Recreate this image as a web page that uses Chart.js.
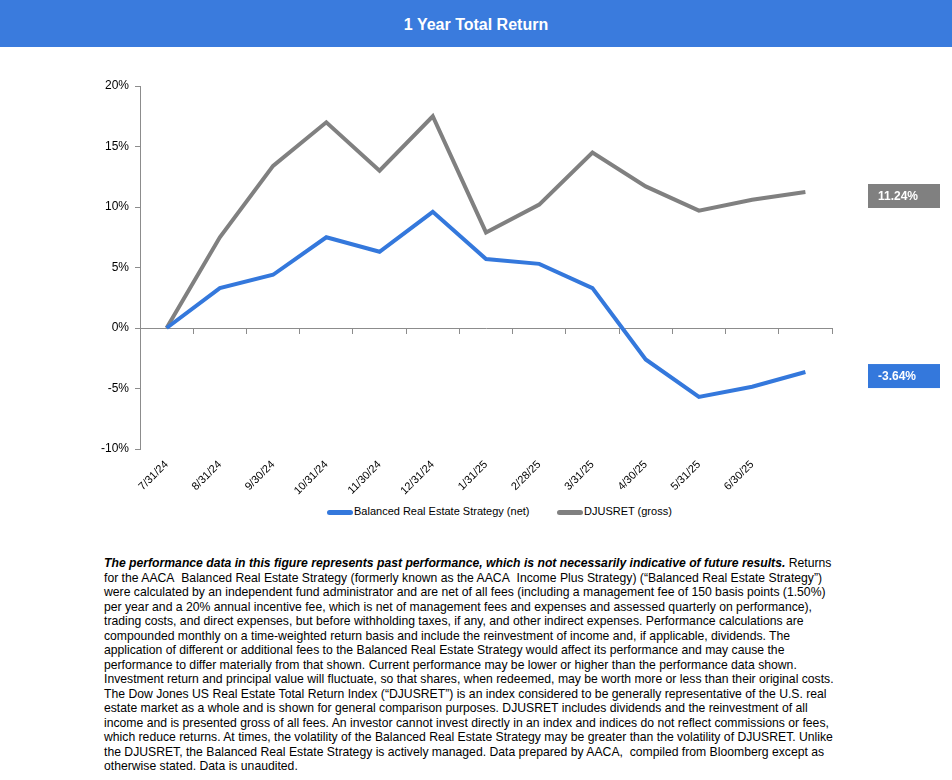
<!DOCTYPE html>
<html>
<head>
<meta charset="utf-8">
<script src="https://cdn.jsdelivr.net/npm/chart.js@4.4.1/dist/chart.umd.min.js"></script>
<style>
  body { margin: 0; width: 952px; height: 780px; background: #fff; position: relative; overflow: hidden;
         font-family: "Liberation Sans Narrow", "Arial Narrow", "Liberation Sans", Arial, sans-serif; }
  .titlebar { position: absolute; left: 0; top: 0; width: 952px; height: 47px; background: #3a7bdd;
              color: #fff; font: bold 16px "Liberation Sans", Arial, sans-serif; text-align: center; line-height: 50px; }
  .wrap { position: absolute; left: 0; top: 47px; width: 952px; height: 455px; }
  .legend { position: absolute; top: 505px; left: 0; width: 952px; font-size: 11px; color: #000; }
  .legend-item { position: absolute; top: 0; white-space: nowrap; }
  .legend-dot { display: inline-block; width: 26px; height: 5px; border-radius: 3px; vertical-align: middle; margin-right: 1px; }
  .note { position: absolute; left: 104px; top: 556px; width: 740px; font-size: 12.2px; line-height: 14.5px; color: #000;
          white-space: nowrap; }
</style>
</head>
<body>
<div class="titlebar">1 Year Total Return</div>
<div class="wrap"><canvas id="returnChart" width="952" height="455"></canvas></div>
<div class="legend" id="legend"></div>
<div class="note">
<b><i>The performance data in this figure represents past performance, which is not necessarily indicative of future results.</i></b> Returns<br>
for the AACA&nbsp; Balanced Real Estate Strategy (formerly known as the AACA&nbsp; Income Plus Strategy) (“Balanced Real Estate Strategy”)<br>
were calculated by an independent fund administrator and are net of all fees (including a management fee of 150 basis points (1.50%)<br>
per year and a 20% annual incentive fee, which is net of management fees and expenses and assessed quarterly on performance),<br>
trading costs, and direct expenses, but before withholding taxes, if any, and other indirect expenses. Performance calculations are<br>
compounded monthly on a time-weighted return basis and include the reinvestment of income and, if applicable, dividends. The<br>
application of different or additional fees to the Balanced Real Estate Strategy would affect its performance and may cause the<br>
performance to differ materially from that shown. Current performance may be lower or higher than the performance data shown.<br>
Investment return and principal value will fluctuate, so that shares, when redeemed, may be worth more or less than their original costs.<br>
The Dow Jones US Real Estate Total Return Index (“DJUSRET”) is an index considered to be generally representative of the U.S. real<br>
estate market as a whole and is shown for general comparison purposes. DJUSRET includes dividends and the reinvestment of all<br>
income and is presented gross of all fees. An investor cannot invest directly in an index and indices do not reflect commissions or fees,<br>
which reduce returns. At times, the volatility of the Balanced Real Estate Strategy may be greater than the volatility of DJUSRET. Unlike<br>
the DJUSRET, the Balanced Real Estate Strategy is actively managed. Data prepared by AACA,&nbsp; compiled from Bloomberg except as<br>
otherwise stated. Data is unaudited.
</div>
<script>
// --- Data ---
const MONTHS = ["7/31/24", "8/31/24", "9/30/24", "10/31/24", "11/30/24", "12/31/24",
  "1/31/25", "2/28/25", "3/31/25", "4/30/25", "5/31/25", "6/30/25", ""];
const STRATEGY_NET = [0, 3.3, 4.4, 7.5, 6.3, 9.6, 5.7, 5.3, 3.3, -2.6, -5.7, -4.85, -3.64];
const DJUSRET_GROSS = [0, 7.5, 13.4, 17.0, 13.0, 17.5, 7.9, 10.2, 14.5, 11.7, 9.7, 10.6, 11.24];
const SERIES_NAMES = ["Balanced Real Estate Strategy (net)", "DJUSRET (gross)"];
const SERIES_COLORS = ["#3478dc", "#808080"];
const Y_TICKS = { min: -10, max: 20, step: 5 };

const FONT = "'Liberation Sans Narrow', 'Arial Narrow', 'Liberation Sans', Arial, sans-serif";
const AXIS_GRAY = "#8c8c8c";

// --- End-of-line value boxes ---
const endLabels = {
  id: "endLabels",
  afterDatasetsDraw(chart) {
    const ctx = chart.ctx;
    const y = chart.scales.y;
    const left = chart.chartArea.right + 36;
    chart.data.datasets.forEach(ds => {
      const last = ds.data[ds.data.length - 1];
      const cy = y.getPixelForValue(last) + 4;
      ctx.save();
      ctx.fillStyle = ds.borderColor;
      ctx.fillRect(left, cy - 12, 72, 24);
      ctx.fillStyle = "#fff";
      ctx.font = "bold 12px 'Liberation Sans', Arial, sans-serif";
      ctx.textBaseline = "middle";
      ctx.fillText(last.toFixed(2) + "%", left + 10, cy + 1);
      ctx.restore();
    });
  },
};

// --- Chart ---
const ctx = document.getElementById("returnChart").getContext("2d");
const chart = new Chart(ctx, {
  type: "line",
  data: {
    labels: MONTHS,
    datasets: [STRATEGY_NET, DJUSRET_GROSS].map((d, i) => ({
      label: SERIES_NAMES[i],
      data: d,
      borderColor: SERIES_COLORS[i],
      backgroundColor: SERIES_COLORS[i],
      borderWidth: 4,
      pointRadius: 0,
      tension: 0,
      borderJoinStyle: "miter",
      order: i === 0 ? 0 : 1,
    })),
  },
  options: {
    responsive: false,
    animation: false,
    layout: { padding: { left: 80, right: 120, top: 39, bottom: 0 } },
    plugins: { legend: { display: false }, tooltip: { enabled: false } },
    scales: {
      x: {
        type: "category",
        offset: true,
        position: { y: 0 },
        border: { color: AXIS_GRAY, width: 1 },
        grid: { drawOnChartArea: false, drawTicks: true, tickLength: 5, color: AXIS_GRAY, offset: true },
        ticks: { display: false },
      },
      x2: {
        type: "category",
        labels: MONTHS,
        offset: true,
        position: "bottom",
        border: { display: false },
        grid: { display: false, drawTicks: false },
        ticks: {
          autoSkip: false, minRotation: 45, maxRotation: 45, color: "#000", padding: 9,
          font: { family: FONT, size: 11 },
        },
        afterFit: s => { s.height = 53; },
      },
      y: {
        min: Y_TICKS.min,
        max: Y_TICKS.max,
        border: { color: AXIS_GRAY, width: 1 },
        grid: { drawOnChartArea: false, drawTicks: true, tickLength: 5, tickColor: AXIS_GRAY },
        ticks: {
          stepSize: Y_TICKS.step, color: "#000", padding: 6,
          font: { family: FONT, size: 12 },
          callback: v => v + "%",
        },
        afterFit: s => { s.width = 60; },
      },
    },
  },
  plugins: [endLabels],
});

// --- Legend (HTML) ---
const legendEl = document.getElementById("legend");
const LEGEND_LEFT = [327, 557];
SERIES_NAMES.forEach((name, i) => {
  const item = document.createElement("span");
  item.className = "legend-item";
  item.style.left = LEGEND_LEFT[i] + "px";
  const dot = document.createElement("span");
  dot.className = "legend-dot";
  dot.style.background = SERIES_COLORS[i];
  item.appendChild(dot);
  item.appendChild(document.createTextNode(name));
  legendEl.appendChild(item);
});
</script>
</body>
</html>
